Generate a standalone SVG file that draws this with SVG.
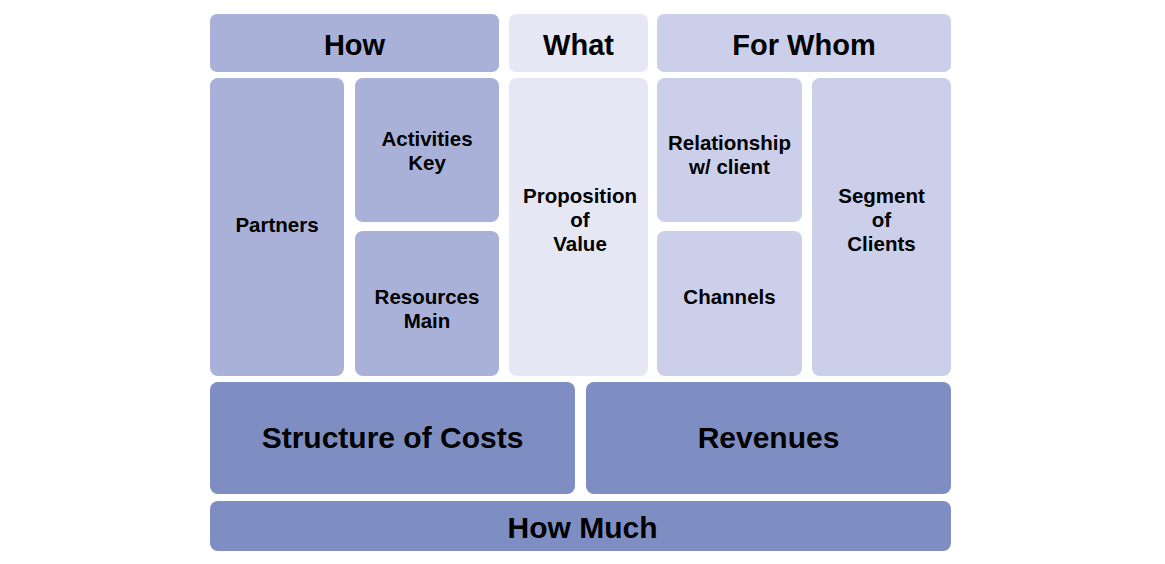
<svg xmlns="http://www.w3.org/2000/svg" width="1165" height="564" viewBox="0 0 1165 564">
<style>
.t{font-family:"Liberation Sans",Arial,sans-serif;font-weight:bold;fill:#000;text-anchor:middle}
.h{font-size:29px}
.s{font-size:20.5px}
.b{font-size:30px}
.c1{fill:#aab1d8}
.c2{fill:#e5e7f5}
.c3{fill:#cbcfe9}
.c4{fill:#7f8ec2}
</style>
<rect width="1165" height="564" fill="#ffffff"/>
<g id="how"><rect class="c1" x="210" y="14" width="289" height="58" rx="7"/><text class="t h" x="354.5" y="54.5">How</text></g>
<g id="what"><rect class="c2" x="509" y="14" width="139" height="58" rx="7"/><text class="t h" x="578.5" y="54.5">What</text></g>
<g id="forwhom"><rect class="c3" x="657" y="14" width="294" height="58" rx="7"/><text class="t h" x="804" y="54.5">For Whom</text></g>
<g id="partners"><rect class="c1" x="210" y="78" width="134" height="298" rx="8"/><text class="t s" x="277" y="231.5">Partners</text></g>
<g id="activities"><rect class="c1" x="355" y="78" width="144" height="144" rx="8"/><text class="t s" x="427" y="145.5">Activities</text><text class="t s" x="427" y="169.5">Key</text></g>
<g id="resources"><rect class="c1" x="355" y="231" width="144" height="145" rx="8"/><text class="t s" x="427" y="303.5">Resources</text><text class="t s" x="427" y="327.5">Main</text></g>
<g id="proposition"><rect class="c2" x="509" y="78" width="139" height="298" rx="8"/><text class="t s" x="580" y="202.5">Proposition</text><text class="t s" x="580" y="226.5">of</text><text class="t s" x="580" y="250.5">Value</text></g>
<g id="relationship"><rect class="c3" x="657" y="78" width="145" height="144" rx="8"/><text class="t s" x="729.5" y="149.5">Relationship</text><text class="t s" x="729.5" y="173.5">w/ client</text></g>
<g id="channels"><rect class="c3" x="657" y="231" width="145" height="145" rx="8"/><text class="t s" x="729.5" y="303.5">Channels</text></g>
<g id="segment"><rect class="c3" x="812" y="78" width="139" height="298" rx="8"/><text class="t s" x="881.5" y="202.5">Segment</text><text class="t s" x="881.5" y="226.5">of</text><text class="t s" x="881.5" y="250.5">Clients</text></g>
<g id="costs"><rect class="c4" x="210" y="382" width="365" height="112" rx="8"/><text class="t b" x="392.5" y="447.5">Structure of Costs</text></g>
<g id="revenues"><rect class="c4" x="586" y="382" width="365" height="112" rx="8"/><text class="t b" x="768.5" y="447.5">Revenues</text></g>
<g id="howmuch"><rect class="c4" x="210" y="501" width="741" height="50" rx="8"/><text class="t b" x="582.5" y="537.5">How Much</text></g>
<g id="connectors"></g>
</svg>
